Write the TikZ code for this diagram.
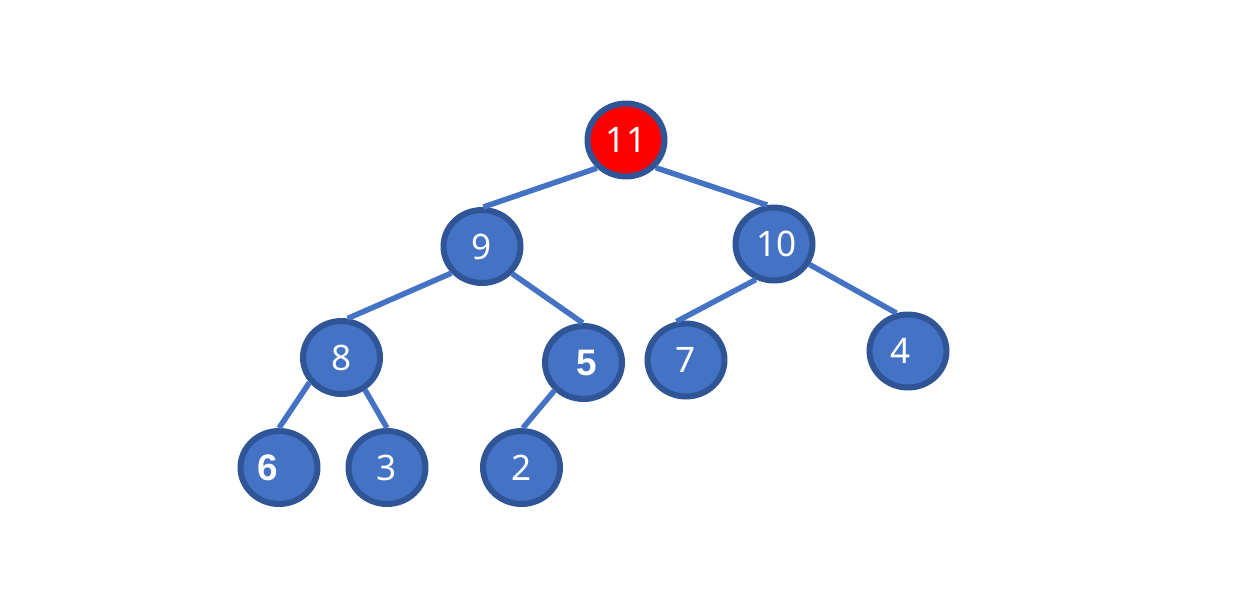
\documentclass[tikz,border=0pt]{standalone}
\usepackage{fontspec}
\setmainfont{Noto Sans}
\newfontfamily\heavyfont{Liberation Sans}
\usetikzlibrary{shapes.geometric}
\definecolor{NodeBlue}{HTML}{4472C4}
\definecolor{RimBlue}{HTML}{2F5597}
\definecolor{RootRed}{HTML}{FF0000}
\newcommand{\heavydigit}[1]{{\heavyfont\bfseries\fontsize{21}{24}\selectfont #1}}
\begin{document}
\begin{tikzpicture}[x=0.02cm, y=-0.02cm,
    heapnode/.style={ellipse, draw=RimBlue, line width=0.12cm, fill=NodeBlue,
      minimum width=1.54cm, minimum height=1.46cm, inner sep=0pt,
      text=white, font=\fontsize{20}{24}\selectfont},
    heapedge/.style={draw=NodeBlue, line width=0.11cm}]
    \useasboundingbox (0,0) rectangle (1234,592);% keeps the margins

    \node[heapnode, fill=RootRed] (Eleven) at (626,140)   {11};
    \node[heapnode] (Nine)  at (482,246.5) {9};
    \node[heapnode] (Ten)   at (774,244)   {\kern0.1cm 10};
    \node[heapnode] (Five)  at (583.5,362.5) {\kern0.12cm\heavydigit{5}};
    \node[heapnode] (Eight) at (341.5,357.5) {8};
    \node[heapnode] (Seven) at (686,360)   {7};
    \node[heapnode] (Four)  at (908,351)   {4\kern0.28cm};
    \node[heapnode] (Six)   at (279,467.5) {\heavydigit{6}\kern0.44cm};
    \node[heapnode] (Three) at (387,467.5) {3};
    \node[heapnode] (Two)   at (521.5,467.5) {2};

    % edges go on top of the rims
    \draw[heapedge] (Eleven.224) -- (Nine.88);
    \draw[heapedge] (Eleven.317) -- (Ten.100);
    \draw[heapedge] (Nine.221)   -- (Eight.81);
    \draw[heapedge] (Nine.318)   -- (Five.91);
    \draw[heapedge] (Ten.243)    -- (Seven.104);
    \draw[heapedge] (Ten.330)    -- (Four.107);
    \draw[heapedge] (Eight.218)  -- (Six.90);
    \draw[heapedge] (Eight.306)  -- (Three.90);
    \draw[heapedge] (Five.224)   -- (Two.88);
\end{tikzpicture}
\end{document}
